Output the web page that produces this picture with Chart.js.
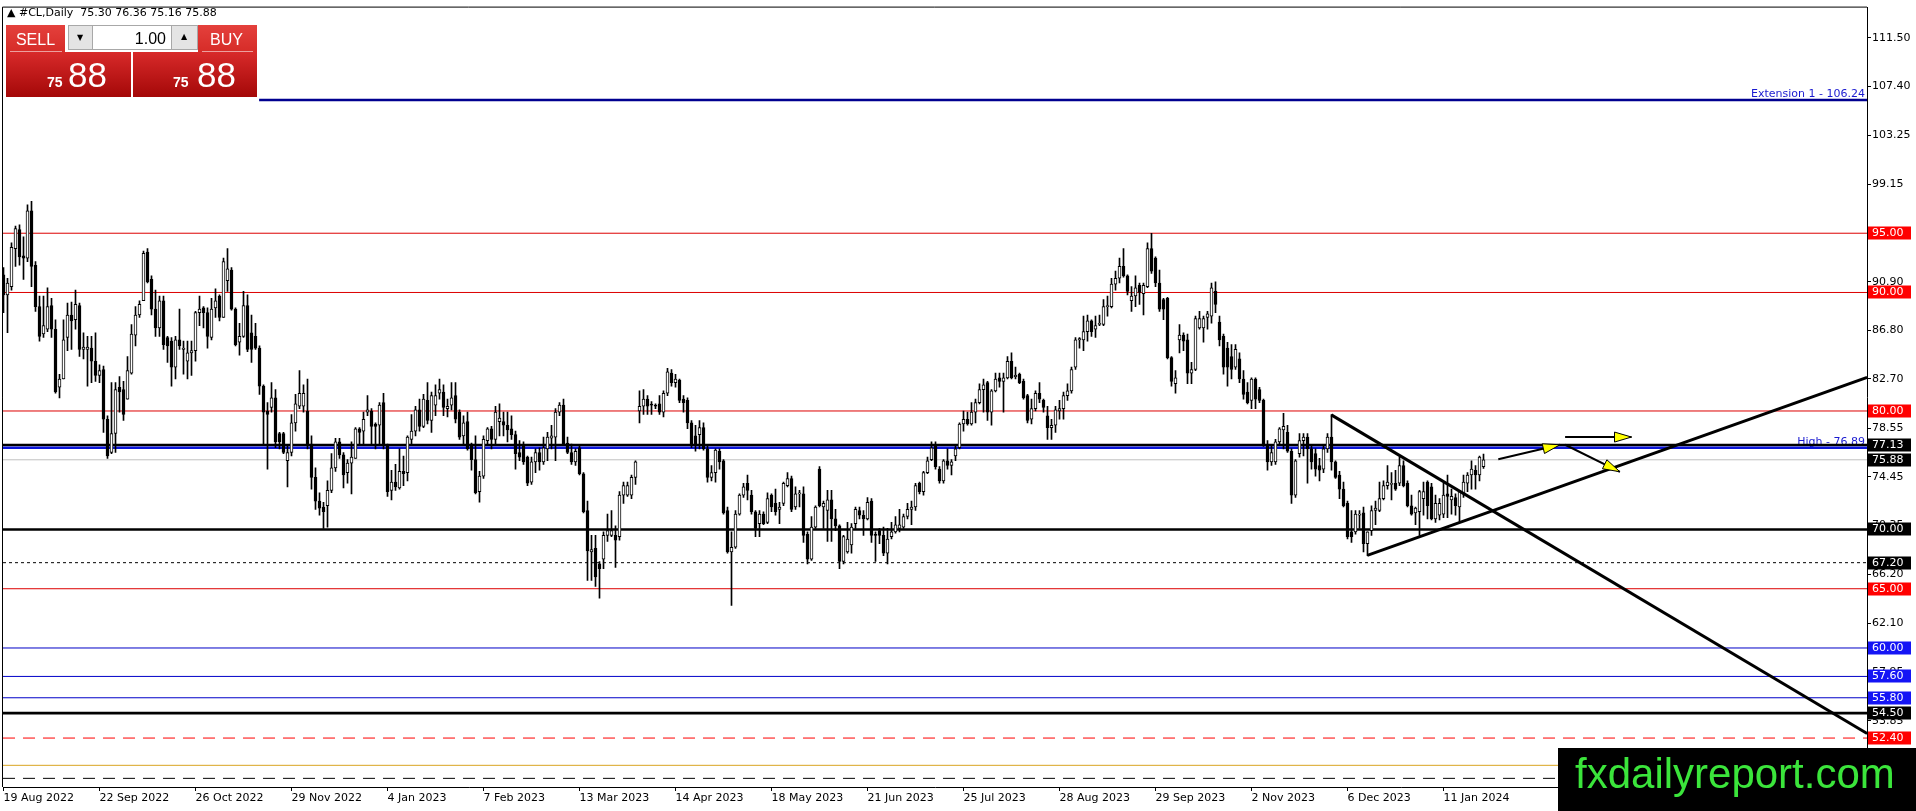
<!DOCTYPE html>
<html><head><meta charset="utf-8">
<script src="https://cdn.jsdelivr.net/npm/chart.js@4.4.1/dist/chart.umd.min.js"></script>
<style>html,body{margin:0;padding:0;background:#fff;overflow:hidden}#wrap{width:1916px;height:811px;position:relative}</style>
</head><body><div id="wrap"><canvas id="c" width="1916" height="811"></canvas></div>
<script>
// ---------------- DATA ----------------
const symbolName = '#CL,Daily';
const dateLabels = ['19 Aug 2022','22 Sep 2022','26 Oct 2022','29 Nov 2022','4 Jan 2023','7 Feb 2023','13 Mar 2023','14 Apr 2023','18 May 2023','21 Jun 2023','25 Jul 2023','28 Aug 2023','29 Sep 2023','2 Nov 2023','6 Dec 2023','11 Jan 2024'];
const barsPerDateLabel = 24;
const yTickValues = [111.50,107.40,103.25,99.15,95.05,90.90,86.80,82.70,78.55,74.45,70.35,66.20,62.10,57.95,53.85,49.75];

const open = [91.5,89.8,90.5,93.7,95.3,93.1,92.9,96.9,92.3,88.8,
86.5,86.9,88.9,86.9,82.0,82.7,86.2,88.1,87.7,88.9,
85.2,85.2,85.3,84.2,83.0,83.5,79.3,76.5,78.1,82.0,
81.8,81.0,83.2,86.4,88.1,89.3,93.4,91.1,88.6,87.0,
89.3,86.2,85.9,83.7,86.0,85.2,84.2,84.9,85.1,88.3,
88.7,88.3,86.2,88.7,89.7,87.9,91.0,91.9,88.6,85.8,
86.3,88.9,86.6,86.3,85.3,82.1,80.0,80.3,81.1,78.1,
78.1,75.8,76.5,79.0,80.4,80.4,80.0,77.2,74.4,72.4,
71.9,72.0,73.3,75.2,77.4,76.3,74.8,75.6,76.0,78.5,
78.3,79.9,80.0,78.9,78.8,80.7,77.1,73.3,74.0,73.5,
74.9,74.8,77.6,78.3,80.1,78.7,80.9,79.2,80.5,81.5,
81.6,80.2,80.5,81.3,79.9,77.9,79.1,77.2,75.9,73.2,
74.5,77.5,78.5,77.6,79.1,79.1,78.8,78.5,78.0,76.5,
77.1,76.1,74.0,75.7,76.5,75.7,76.8,77.7,77.8,79.9,
80.5,77.3,76.5,75.7,76.9,74.7,71.6,68.1,68.4,67.1,
67.5,69.5,69.5,69.5,69.4,72.9,72.9,72.9,74.4,80.0,
80.4,81.0,80.5,80.5,80.6,79.9,81.5,83.2,82.4,82.6,
81.0,80.9,79.0,77.9,78.0,78.6,76.8,74.4,74.8,76.6,
75.8,71.6,68.1,68.5,71.3,72.9,73.9,72.9,71.5,70.5,
71.3,70.6,72.9,72.2,71.7,72.2,73.7,74.3,71.9,73.0,
73.0,69.6,67.5,70.2,75.1,71.9,71.6,72.5,70.9,70.3,
67.3,68.1,68.7,70.5,71.6,71.2,70.9,72.4,69.6,69.9,
69.5,68.0,69.4,69.8,70.1,70.2,71.1,71.7,71.9,73.9,
73.2,74.8,75.9,77.1,75.1,74.1,75.8,75.4,76.2,76.9,
78.9,79.3,78.9,79.9,80.7,81.8,82.4,79.9,81.7,82.8,
82.5,82.8,84.2,82.9,83.1,82.5,81.3,79.3,80.2,81.5,
80.9,79.6,78.6,78.8,80.0,80.2,81.3,81.7,83.7,86.0,
86.0,86.7,87.6,86.9,87.3,87.3,88.8,88.8,90.7,91.2,
92.2,91.4,89.3,89.7,90.6,89.9,90.5,93.7,92.9,90.8,
89.4,89.5,84.5,82.3,86.0,86.4,86.0,83.2,83.5,87.0,
87.0,87.9,88.0,90.1,87.5,86.3,85.3,84.6,83.7,84.4,
82.7,81.6,80.9,82.7,81.8,80.9,77.1,75.7,75.7,77.4,
78.4,78.2,76.6,72.9,76.4,77.5,77.8,76.8,76.4,75.4,
75.1,76.8,77.8,75.7,74.6,73.4,72.2,69.8,69.8,71.2,
71.4,68.8,69.9,71.6,71.6,72.6,73.7,73.8,73.9,73.9,
75.4,73.9,72.0,71.4,71.5,72.6,74.0,73.6,70.9,71.2,
71.3,73.0,72.5,72.7,71.9,73.0,73.9,74.6,75.0,74.6,
75.30];
const high = [92.1,91.2,94.2,95.6,95.7,94.7,97.4,97.7,92.6,89.7,
89.7,90.4,89.5,87.7,83.1,87.7,89.1,89.2,90.2,89.1,
86.6,86.3,86.3,86.6,83.9,83.8,79.6,82.4,82.4,82.9,
82.5,84.6,87.3,88.8,89.3,93.5,93.7,91.4,90.2,89.7,
89.7,86.3,86.2,86.3,88.6,85.9,85.9,85.9,88.4,89.7,
88.8,88.7,89.5,90.3,89.8,92.9,93.7,92.1,88.7,87.4,
90.1,89.8,88.1,87.4,85.5,82.2,80.7,82.4,81.8,78.2,
78.2,77.1,79.7,81.4,83.4,82.2,82.7,77.9,75.2,73.1,
72.3,74.1,76.4,77.7,77.7,76.5,75.9,77.4,78.6,78.6,
79.9,81.3,80.2,79.0,80.7,81.5,77.2,75.0,75.5,76.8,
76.2,77.9,79.7,80.4,81.0,81.4,82.4,81.6,82.2,82.7,
82.2,81.0,82.4,82.4,80.1,79.6,79.9,77.3,77.9,74.9,
77.9,78.6,78.7,80.4,80.6,79.9,79.9,79.6,78.3,77.5,
77.4,76.2,76.1,76.8,76.9,77.8,78.2,78.8,80.2,80.7,
81.0,77.8,77.2,76.8,77.1,74.8,72.4,69.5,69.5,67.3,
69.8,71.3,71.6,70.3,73.2,74.0,74.0,74.6,75.8,81.7,
81.8,81.3,80.8,80.6,81.3,81.7,83.6,83.5,83.1,82.7,
81.3,81.1,79.2,78.8,79.2,79.0,77.1,75.4,76.8,76.8,
75.9,71.9,69.8,71.6,73.0,73.9,74.6,73.3,71.6,71.6,
71.5,73.1,73.0,73.4,72.3,74.0,74.8,74.5,73.6,73.3,
73.6,69.8,71.1,72.0,75.3,72.4,73.3,73.3,71.7,70.4,
69.5,70.6,70.5,71.9,71.9,71.6,72.7,72.6,69.8,70.1,
70.2,70.1,70.6,71.1,71.7,71.3,72.2,72.4,73.9,74.0,
74.9,76.1,77.4,77.4,75.3,75.9,76.8,75.9,77.1,79.0,
80.0,79.9,80.7,81.0,82.3,82.7,82.5,81.8,83.2,83.2,
83.2,84.6,84.9,83.7,83.2,82.7,81.4,81.0,81.7,82.4,
81.0,80.4,79.3,80.4,80.9,81.6,82.3,83.7,86.2,86.2,
88.0,88.1,87.7,88.0,88.1,89.4,89.7,91.2,91.8,92.9,
93.7,91.5,90.5,91.4,90.8,90.8,94.2,95.0,93.0,91.9,
89.5,89.6,84.6,83.4,87.3,86.6,86.5,84.1,88.0,88.4,
88.0,88.4,90.8,90.9,88.0,86.5,85.8,85.6,85.6,84.9,
83.4,82.4,82.8,82.8,82.0,81.0,77.5,77.1,77.6,78.6,
79.8,78.8,76.8,75.9,78.1,78.1,78.1,77.1,76.8,76.0,
77.1,78.1,79.7,75.8,74.9,74.0,72.4,71.6,71.6,71.6,
71.9,69.8,72.0,72.4,74.0,74.1,75.4,74.8,75.0,76.1,
75.8,74.1,72.9,71.9,73.3,74.0,74.1,73.9,72.9,72.6,
73.9,74.6,73.4,73.0,73.3,74.6,74.8,75.8,75.4,76.2,
76.36];
const low = [88.3,86.6,90.2,92.2,92.3,91.1,92.6,90.5,88.4,85.9,
86.2,86.7,86.2,81.5,81.1,82.7,85.1,85.2,86.9,84.6,
84.4,82.1,82.4,82.5,82.4,78.2,76.0,76.4,76.5,79.9,
79.2,81.0,83.1,85.5,87.9,89.3,90.8,88.1,86.3,86.3,
85.2,84.1,82.1,82.7,85.2,83.1,82.7,83.0,84.2,87.2,
87.0,85.3,86.0,87.9,87.6,87.9,90.1,88.5,85.5,84.7,
86.2,85.0,84.1,85.2,81.4,77.1,75.1,79.9,76.9,76.8,
76.4,73.6,76.2,78.3,80.2,79.9,76.8,73.4,71.7,71.2,
70.1,70.2,73.1,74.9,76.0,73.5,73.9,73.0,76.0,77.1,
77.1,79.6,77.2,76.8,77.1,76.8,72.8,72.5,73.3,73.4,
73.7,74.1,77.2,77.9,78.3,78.6,78.9,78.2,79.6,81.0,
79.6,79.5,80.1,79.0,77.6,77.1,76.7,75.0,73.0,72.3,
74.3,77.1,76.8,77.1,77.9,77.9,77.4,77.6,75.1,75.8,
75.5,73.7,73.8,74.8,75.0,75.5,75.8,76.8,75.8,79.6,
77.1,76.4,75.5,75.4,74.6,71.4,65.7,65.7,65.2,64.2,
66.7,69.0,69.4,66.8,69.1,72.2,72.8,72.6,73.8,79.0,
79.7,79.7,79.7,80.2,79.7,79.5,81.3,82.1,82.0,80.7,
79.9,78.5,76.9,76.6,76.8,76.7,74.0,74.1,74.0,75.1,
71.3,68.0,63.6,68.4,71.2,72.7,72.5,71.3,69.4,69.4,
70.4,70.5,71.5,71.2,70.5,72.0,73.6,71.5,71.7,71.9,
68.9,67.1,67.4,70.1,71.9,70.1,69.0,69.0,69.9,66.7,
67.1,68.0,68.0,70.1,70.9,69.5,70.8,68.9,67.3,68.8,
67.8,67.1,69.2,69.7,69.8,70.1,70.9,70.4,71.6,73.0,
72.9,74.7,75.8,75.1,73.9,73.9,75.1,74.6,75.8,76.8,
78.3,78.8,78.8,79.0,80.6,79.9,79.2,78.8,81.6,82.0,
79.9,82.7,82.7,82.7,82.3,81.0,79.0,78.9,80.0,80.7,
79.9,77.6,77.6,78.2,79.3,79.3,80.9,81.5,83.5,85.3,
85.1,85.9,86.3,86.2,87.2,87.2,88.0,88.7,90.2,90.8,
91.3,89.8,88.4,88.8,89.0,88.1,90.4,91.6,90.5,88.4,
87.7,84.4,82.1,81.5,84.9,85.1,82.3,82.3,83.4,86.9,
85.8,86.9,87.4,88.3,85.5,83.1,82.1,82.7,83.5,82.4,
81.0,80.6,80.2,80.2,80.7,77.0,75.0,75.4,75.5,77.1,
76.8,76.5,72.2,72.7,76.1,76.2,73.9,75.1,74.5,74.1,
74.8,76.5,75.0,74.3,72.6,71.9,69.2,68.9,69.6,70.1,
68.1,67.8,69.5,70.4,71.5,72.5,73.4,72.5,73.3,73.7,
73.6,71.9,71.2,70.4,69.5,71.2,70.9,70.8,70.6,70.8,
71.0,71.0,71.3,71.2,70.6,72.7,73.2,73.4,73.4,74.1,
75.16];
const close = [89.8,90.8,93.8,95.4,93.0,92.9,96.9,92.2,88.8,86.3,
87.2,88.8,86.9,81.6,82.7,86.0,88.1,87.6,89.0,85.2,
85.4,85.4,84.2,83.0,83.4,79.3,76.2,78.1,81.8,81.6,
79.7,83.4,86.5,88.1,89.0,93.3,90.9,88.6,87.0,89.3,
85.6,85.5,83.7,86.0,85.5,85.3,84.9,85.1,88.3,88.6,
88.3,86.3,88.6,89.3,87.9,92.6,92.0,88.6,85.6,86.3,
88.9,85.2,85.2,85.3,82.1,79.9,79.7,81.1,77.4,77.4,
76.5,76.5,79.0,80.6,81.5,81.5,77.1,74.4,72.4,71.8,
71.5,73.3,75.2,77.4,76.3,74.6,75.6,76.1,78.5,78.2,
79.3,80.1,78.7,78.7,80.5,77.1,73.2,74.0,73.6,74.9,
74.7,77.8,78.3,80.1,78.7,81.0,79.2,81.3,81.3,81.8,
80.3,80.4,81.1,79.3,77.8,79.0,76.8,75.9,73.1,74.5,
77.6,78.5,77.6,79.9,79.4,78.8,78.4,78.0,76.4,76.1,
75.7,73.9,75.7,76.5,75.7,76.9,77.8,77.9,79.9,80.5,
77.2,76.5,75.7,76.6,74.7,71.5,68.2,68.3,66.0,66.7,
69.5,69.9,69.9,69.1,72.9,73.7,73.7,74.4,75.7,80.4,
81.0,80.4,80.5,80.4,79.9,81.5,83.3,82.4,82.7,80.9,
80.7,79.0,77.1,77.1,78.6,76.8,74.4,74.8,76.7,75.7,
71.4,68.1,68.5,71.3,72.9,73.6,73.3,71.5,70.1,71.3,
70.5,72.6,71.9,71.5,71.9,73.9,74.3,71.7,73.0,73.1,
69.5,67.5,70.2,71.9,72.0,72.2,72.5,70.9,70.3,67.3,
69.4,69.2,70.2,71.7,71.2,70.9,72.3,69.5,69.5,69.5,
68.0,69.2,69.8,70.4,70.4,71.1,71.7,71.9,73.7,73.2,
74.8,75.8,76.9,75.3,74.1,75.8,75.4,75.7,76.8,78.9,
79.3,78.9,79.9,80.7,81.8,82.2,79.9,81.7,82.7,82.5,
82.8,84.2,82.8,83.0,82.4,81.1,79.2,80.2,81.5,81.0,
80.3,78.6,78.8,80.1,80.2,81.3,81.7,83.5,86.0,86.1,
86.7,87.6,86.7,87.2,87.4,88.8,88.9,90.7,91.2,92.2,
91.4,90.1,89.7,90.4,90.0,90.6,93.7,91.8,90.8,88.6,
88.6,84.5,82.5,82.8,86.4,85.9,83.2,83.5,87.8,87.8,
87.8,88.2,90.4,89.0,86.0,83.7,83.7,83.5,85.2,82.7,
81.4,80.7,82.7,81.0,80.9,77.1,75.7,76.5,77.4,78.5,
78.7,76.6,72.9,75.8,77.5,77.8,76.8,75.7,75.1,75.0,
76.8,77.8,75.7,74.4,73.4,72.0,69.4,69.4,71.3,71.3,
68.8,69.8,71.6,71.8,72.6,73.7,74.0,73.9,73.4,75.4,
73.7,72.0,71.3,71.8,73.2,73.2,72.0,70.9,72.2,72.2,
72.9,72.8,72.8,72.0,73.2,74.0,74.6,75.1,74.6,76.1,
75.88];

// horizontal levels
const redLevels = [95.00, 90.00, 80.00, 65.00];
const blueLevels = [60.00, 57.60, 55.80];
const blackLevels = [77.13, 70.00, 54.50];
const dottedLevel = 67.20;
const redDashedLevel = 52.40;
const goldLevel = 50.10;
const blackDashedLevel = 49.00;
const highLevel = 76.89;
const extensionLevel = 106.24;
const extensionStartBar = 63.9;
const labelBoxPrices = [95.00, 90.00, 80.00, 77.13, 75.88, 70.00, 67.20, 65.00, 60.00, 57.60, 55.80, 54.50, 52.40];
const labelBoxKinds  = ['r','r','r','k','k','k','k','r','b','b','b','k','r'];
// drawn objects: [bar index, price]
const trendUp = [[340.95, 67.82], [465.9, 82.83]];
const trendDown = [[331.95, 79.67], [465.9, 52.78]];
const arrowPaths = [
  [[373.7, 75.93], [389.1, 77.15]],
  [[390.4, 77.80], [407.0, 77.80]],
  [[390.4, 77.15], [404.1, 74.87]]
];

// ---------------- CHART ----------------
const X_MIN = -0.125, X_MAX = 465.875, Y_MIN = 48.27, Y_MAX = 114.04;
const FONT = '"DejaVu Sans"';
const boxColor = {r:'#ff0000', b:'#1414f5', k:'#000000'};
const N = close.length;
const idx = close.map((_, i) => i);
const wickData = idx.map(i => ({x: i, y: [low[i], high[i]]}));
const bodyData = idx.map(i => ({x: i, y: [open[i], close[i]]}));
const bodyFill = idx.map(i => close[i] > open[i] ? '#ffffff' : '#000000');

function hline(p, color, width, dash, x0) {
  return {type: 'line', data: [{x: x0 === undefined ? X_MIN : x0, y: p}, {x: X_MAX, y: p}],
    borderColor: color, borderWidth: width, borderDash: dash || [], pointRadius: 0,
    fill: false, tension: 0, order: 10};
}
function segLine(pts, color, width, order) {
  return {type: 'line', data: pts.map(p => ({x: p[0], y: p[1]})), borderColor: color,
    borderWidth: width, pointRadius: 0, fill: false, tension: 0, order: order};
}

const datasets = [];
datasets.push(hline(goldLevel, '#daa520', 1));
datasets.push(hline(blackDashedLevel, '#000000', 1, [12, 8]));
datasets.push(hline(redDashedLevel, '#ff0000', 1, [12, 8]));
datasets.push(hline(dottedLevel, '#000000', 1, [3, 3]));
datasets.push(hline(close[N - 1], '#c0c0c0', 1));
redLevels.forEach(p => datasets.push(hline(p, '#dd0000', 1)));
blueLevels.forEach(p => datasets.push(hline(p, '#0000c8', 1)));
datasets.push(hline(highLevel, '#0a14d8', 2.5));
blackLevels.forEach(p => datasets.push(hline(p, '#000000', 2.7)));
datasets.push(hline(extensionLevel, '#000090', 2.5, [], extensionStartBar));
datasets.push({type: 'bar', data: wickData, backgroundColor: '#000000', borderWidth: 0,
  barThickness: 1, grouped: false, order: 4});
datasets.push({type: 'bar', data: bodyData, backgroundColor: bodyFill, borderColor: '#000000',
  borderWidth: 1, borderSkipped: false, barThickness: 3, minBarLength: 1, grouped: false, order: 3});
datasets.push(segLine(trendUp, '#000000', 3, 1));
datasets.push(segLine(trendDown, '#000000', 3, 1));

function gradRect(ctx, x, y, w, h, c1, c2) {
  const g = ctx.createLinearGradient(0, y, 0, y + h);
  g.addColorStop(0, c1); g.addColorStop(1, c2);
  ctx.fillStyle = g; ctx.fillRect(x, y, w, h);
}

function drawPanel(ctx) {
  const bid = close[N - 1].toFixed(2).split('.');
  // top buttons
  gradRect(ctx, 6, 25, 59, 27, '#e4403c', '#d62c28');
  gradRect(ctx, 198, 25, 59, 27, '#e4403c', '#d62c28');
  ctx.fillStyle = 'rgba(255,255,255,0.55)';
  ctx.fillRect(10, 51, 52, 1); ctx.fillRect(202, 51, 51, 1);
  ctx.fillStyle = '#e4e4e4'; ctx.fillRect(68, 25, 25, 25); ctx.fillRect(172, 25, 26, 25);
  ctx.fillStyle = '#ffffff'; ctx.fillRect(93, 25, 79, 25);
  ctx.strokeStyle = '#a8a8a8'; ctx.lineWidth = 1;
  ctx.strokeRect(68.5, 25.5, 129, 24); ctx.beginPath();
  ctx.moveTo(92.5, 25); ctx.lineTo(92.5, 50); ctx.moveTo(171.5, 25); ctx.lineTo(171.5, 50); ctx.stroke();
  ctx.fillStyle = '#000'; ctx.font = '8px ' + FONT; ctx.textAlign = 'center'; ctx.textBaseline = 'middle';
  ctx.fillText('▼', 80, 38); ctx.fillText('▲', 184, 37);
  ctx.font = '16px "Liberation Sans"'; ctx.textAlign = 'right'; ctx.textBaseline = 'alphabetic';
  ctx.fillText('1.00', 166, 44);
  ctx.fillStyle = '#fff'; ctx.textAlign = 'center';
  ctx.fillText('SELL', 35.5, 44.5); ctx.fillText('BUY', 226.5, 44.5);
  // big price boxes
  gradRect(ctx, 6, 52, 125, 45, '#d82a2a', '#a40808');
  gradRect(ctx, 133, 52, 124, 45, '#d82a2a', '#a40808');
  ctx.fillStyle = '#fff'; ctx.textAlign = 'left';
  ctx.font = 'bold 14px "Liberation Sans"';
  ctx.fillText(bid[0], 47, 87); ctx.fillText(bid[0], 173, 87);
  ctx.font = '35px "Liberation Sans"';
  ctx.fillText(bid[1], 68, 87); ctx.fillText(bid[1], 197, 87);
}

function drawArrow(ctx, x1, y1, x2, y2) {
  ctx.strokeStyle = '#000'; ctx.lineWidth = 2;
  ctx.beginPath(); ctx.moveTo(x1, y1); ctx.lineTo(x2, y2); ctx.stroke();
  const a = Math.atan2(y2 - y1, x2 - x1), L = 17, W = 5;
  const bx = x2 - L * Math.cos(a), by = y2 - L * Math.sin(a);
  ctx.beginPath(); ctx.moveTo(x2, y2);
  ctx.lineTo(bx + W * Math.sin(a), by - W * Math.cos(a));
  ctx.lineTo(bx - W * Math.sin(a), by + W * Math.cos(a));
  ctx.closePath(); ctx.fillStyle = '#ffff00'; ctx.fill();
  ctx.lineWidth = 1; ctx.stroke();
}

const mt4Plugin = {
  id: 'mt4',
  beforeDraw(chart) {
    const {ctx, width, height} = chart;
    ctx.save(); ctx.fillStyle = '#ffffff'; ctx.fillRect(0, 0, width, height); ctx.restore();
  },
  beforeDatasetsDraw(chart) {
    const {ctx, chartArea: a, scales: {y}} = chart;
    ctx.save();
    ctx.font = '11px ' + FONT; ctx.textAlign = 'right'; ctx.textBaseline = 'alphabetic';
    ctx.fillStyle = '#1a1ad0';
    ctx.fillText('Extension 1 - ' + extensionLevel.toFixed(2), a.right - 2, y.getPixelForValue(extensionLevel) - 3);
    ctx.fillText('High - ' + highLevel.toFixed(2), a.right - 2, y.getPixelForValue(highLevel) - 3);
    ctx.restore();
  },
  afterDatasetsDraw(chart) {
    const {ctx, scales: {x, y}} = chart;
    ctx.save();
    arrowPaths.forEach(p => drawArrow(ctx, x.getPixelForValue(p[0][0]), y.getPixelForValue(p[0][1]),
      x.getPixelForValue(p[1][0]), y.getPixelForValue(p[1][1])));
    ctx.restore();
  },
  afterDraw(chart) {
    const {ctx, chartArea: a, scales: {y}} = chart;
    ctx.save();
    // frame
    ctx.strokeStyle = '#000'; ctx.lineWidth = 1;
    ctx.beginPath(); ctx.moveTo(a.left - 0.5, a.bottom); ctx.lineTo(a.left - 0.5, a.top - 0.5);
    ctx.lineTo(a.right, a.top - 0.5); ctx.stroke();
    // price label boxes
    ctx.font = '11px ' + FONT; ctx.textAlign = 'left'; ctx.textBaseline = 'middle';
    labelBoxPrices.forEach((p, i) => {
      const py = Math.round(y.getPixelForValue(p));
      ctx.fillStyle = boxColor[labelBoxKinds[i]];
      ctx.fillRect(a.right + 1, py - 6.5, 43, 13);
      ctx.fillStyle = '#ffffff';
      ctx.fillText(p.toFixed(2), a.right + 5, py + 0.5);
    });
    // header
    ctx.fillStyle = '#000'; ctx.font = '11px ' + FONT; ctx.textBaseline = 'middle';
    ctx.fillText('▲ ' + symbolName + '  ' + [open[N-1], high[N-1], low[N-1], close[N-1]].map(v => v.toFixed(2)).join(' '), 7, 13.5);
    drawPanel(ctx);
    // watermark
    ctx.fillStyle = '#000'; ctx.fillRect(1558, 748, 358, 63);
    ctx.fillStyle = '#3be53b'; ctx.font = '42px "Liberation Sans"'; ctx.textAlign = 'left';
    ctx.textBaseline = 'alphabetic';
    ctx.fillText('fxdailyreport.com', 1575, 788);
    ctx.restore();
  }
};

Chart.defaults.font.family = FONT;
new Chart(document.getElementById('c'), {
  type: 'bar',
  data: {datasets: datasets},
  options: {
    responsive: false, devicePixelRatio: 1, animation: false, events: [],
    layout: {padding: {left: 3, top: 3, right: 0, bottom: 0}},
    plugins: {legend: {display: false}, tooltip: {enabled: false}},
    scales: {
      x: {
        type: 'linear', min: X_MIN, max: X_MAX, offset: false, position: 'bottom',
        afterFit: s => { s.height = 24; },
        afterBuildTicks: s => { s.ticks = dateLabels.map((_, k) => ({value: k * barsPerDateLabel})); },
        ticks: {autoSkip: false, maxRotation: 0, minRotation: 0, align: 'start', padding: 1,
          color: '#000', font: {family: FONT, size: 11},
          callback: v => dateLabels[Math.round(v / barsPerDateLabel)] || ''},
        grid: {display: true, drawOnChartArea: false, drawTicks: true, tickLength: 4, color: '#000', offset: false},
        border: {display: true, color: '#000', width: 1}
      },
      y: {
        type: 'linear', position: 'right', min: Y_MIN, max: Y_MAX,
        afterFit: s => { s.width = 49; },
        afterBuildTicks: s => { s.ticks = yTickValues.map(v => ({value: v})); },
        ticks: {autoSkip: false, padding: 1, crossAlign: 'near', color: '#000',
          font: {family: FONT, size: 11}, callback: v => Number(v).toFixed(2)},
        grid: {drawOnChartArea: false, drawTicks: true, tickLength: 4, color: '#000'},
        border: {display: true, color: '#000', width: 1}
      }
    }
  },
  plugins: [mt4Plugin]
});
</script>
</body></html>
